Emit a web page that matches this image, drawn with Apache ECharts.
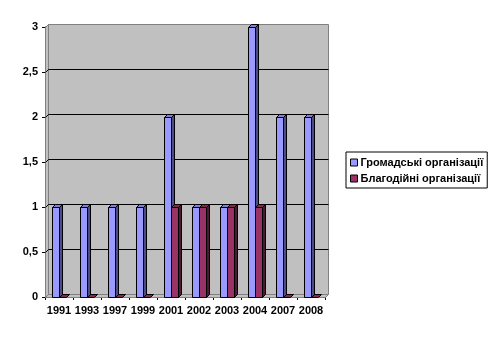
<!DOCTYPE html>
<html>
<head>
<meta charset="utf-8">
<script src="https://cdn.jsdelivr.net/npm/echarts@6/dist/echarts.min.js"></script>
<style>
  html, body { margin: 0; padding: 0; background: #fff; }
  #chart { width: 498px; height: 340px; }
</style>
</head>
<body>
<div id="chart"></div>
<script>
// Роки (категорії осі X)
const years = ['1991', '1993', '1997', '1999', '2001', '2002', '2003', '2004', '2007', '2008'];
// Кількість організацій за роками
const civicOrgs = [1, 1, 1, 1, 2, 1, 1, 3, 2, 2];
const charityOrgs = [0, 0, 0, 0, 1, 1, 1, 1, 0, 0];
// Поділки осі Y
const yTicks = [0, 0.5, 1, 1.5, 2, 2.5, 3];

const seriesNames = ['Громадські організації', 'Благодійні організації'];
const FONT = '"Liberation Sans", Arial, sans-serif';
const DEPTH = 3;

const palette = [
  { front: '#9999ff', top: '#8080d8', side: '#4c4c88' },
  { front: '#993366', top: '#80294f', side: '#4c1933' }
];

const chart = echarts.init(document.getElementById('chart'), null, { renderer: 'canvas' });

// Back wall, left wall and floor of the 3D box
function renderWalls(params, api) {
  const x0 = api.coord([0, 0])[0] - api.size([1, 0])[0] / 2;
  const x1 = api.coord([years.length - 1, 0])[0] + api.size([1, 0])[0] / 2;
  const yb = Math.round(api.coord([0, 0])[1]) + 0.5;
  const yt = Math.round(api.coord([0, 3])[1]) + 0.5;
  const L = Math.round(x0) + 0.5, R = Math.round(x1) + 0.5;
  const d = DEPTH;
  return {
    type: 'group',
    children: [
      { type: 'polygon', shape: { points: [[L + d, yt - d], [R + d, yt - d], [R + d, yb - d], [L + d, yb - d]] },
        style: { fill: '#c0c0c0', stroke: '#808080', lineWidth: 1 } },
      { type: 'polygon', shape: { points: [[L, yt], [L + d, yt - d], [L + d, yb - d], [L, yb]] },
        style: { fill: '#c0c0c0', stroke: '#808080', lineWidth: 1 } },
      { type: 'polygon', shape: { points: [[L, yb], [L + d, yb - d], [R + d, yb - d], [R, yb]] },
        style: { fill: '#c0c0c0', stroke: '#808080', lineWidth: 1 } }
    ]
  };
}

// Horizontal gridlines drawn on the back wall
function renderGridLine(params, api) {
  const v = api.value(0);
  const x0 = api.coord([0, 0])[0] - api.size([1, 0])[0] / 2;
  const x1 = api.coord([years.length - 1, 0])[0] + api.size([1, 0])[0] / 2;
  const y = Math.round(api.coord([0, v])[1]) + 0.5;
  const L = Math.round(x0) + 0.5, R = Math.round(x1) + 0.5;
  const d = DEPTH;
  return {
    type: 'polyline',
    shape: { points: [[L, y], [L + d, y - d], [R + d, y - d]] },
    style: { stroke: '#000', lineWidth: 1, fill: null }
  };
}

// 3D column: front face, right side and top
function makeBarRenderer(idx) {
  const c = palette[idx];
  return function (params, api) {
    const i = api.value(0);
    const v = api.value(1);
    const band = api.size([1, 0])[0];
    const cx = api.coord([i, 0])[0];
    const w = Math.round(band * 0.265);
    const left = Math.floor(cx - band * 0.22) + idx * w + 0.5;
    const y0 = Math.round(api.coord([i, 0])[1]) + 0.5;
    const y1 = Math.round(api.coord([i, v])[1]) + 0.5;
    const d = DEPTH;
    const stroke = { stroke: '#000', lineWidth: 1, lineJoin: 'miter' };
    const children = [];
    if (v > 0) {
      children.push({ type: 'polygon', shape: { points: [[left + w, y1], [left + w + d, y1 - d], [left + w + d, y0 - d], [left + w, y0]] },
        style: Object.assign({ fill: c.side }, stroke) });
      children.push({ type: 'rect', shape: { x: left, y: y1, width: w, height: y0 - y1 },
        style: Object.assign({ fill: c.front }, stroke) });
    }
    children.push({ type: 'polygon', shape: { points: [[left, y1], [left + w, y1], [left + w + d, y1 - d], [left + d, y1 - d]] },
      style: Object.assign({ fill: c.top }, stroke) });
    return { type: 'group', children: children };
  };
}

const option = {
  animation: false,
  backgroundColor: '#ffffff',
  grid: { left: 45, right: 173, top: 27, bottom: 43, containLabel: false },
  legend: {
    orient: 'vertical',
    left: 346,
    top: 152,
    backgroundColor: '#fff',
    borderColor: '#000',
    borderWidth: 1,
    borderRadius: 0,
    padding: [5, 4, 4, 4],
    itemWidth: 7,
    itemHeight: 7,
    itemGap: 5,
    itemStyle: { borderColor: '#000', borderWidth: 1 },
    textStyle: { fontFamily: FONT, fontSize: 11, fontWeight: 'bold', color: '#000', padding: [0, 0, 0, -2] },
    data: [
      { name: seriesNames[0], icon: 'rect', itemStyle: { color: palette[0].front } },
      { name: seriesNames[1], icon: 'rect', itemStyle: { color: palette[1].front } }
    ]
  },
  xAxis: {
    type: 'category',
    data: years,
    boundaryGap: true,
    axisLine: { show: true, lineStyle: { color: '#000', width: 1 } },
    axisTick: { show: true, length: 3, inside: false, lineStyle: { color: '#000' } },
    axisLabel: { margin: 8, fontFamily: FONT, fontSize: 11, fontWeight: 'bold', color: '#000', interval: 0 },
    splitLine: { show: false }
  },
  yAxis: {
    type: 'value',
    min: 0,
    max: 3,
    interval: 0.5,
    axisLine: { show: true, lineStyle: { color: '#000', width: 1 } },
    axisTick: { show: true, length: 3, lineStyle: { color: '#000' } },
    axisLabel: {
      margin: 7, fontFamily: FONT, fontSize: 11, fontWeight: 'bold', color: '#000',
      formatter: function (v) { return String(v).replace('.', ','); }
    },
    splitLine: { show: false }
  },
  series: [
    { type: 'custom', name: '_walls', silent: true, z: 1, renderItem: renderWalls, data: [[0, 0]], legendHoverLink: false },
    { type: 'custom', name: '_grid', silent: true, z: 2, renderItem: renderGridLine,
      data: yTicks.filter(function (t) { return t > 0 && t < 3; }).map(function (t) { return [t]; }),
      encode: { y: 0 } },
    { type: 'custom', name: seriesNames[0], z: 3, renderItem: makeBarRenderer(0),
      itemStyle: { color: palette[0].front },
      data: civicOrgs.map(function (v, i) { return [i, v]; }), encode: { x: 0, y: 1 } },
    { type: 'custom', name: seriesNames[1], z: 4, renderItem: makeBarRenderer(1),
      itemStyle: { color: palette[1].front },
      data: charityOrgs.map(function (v, i) { return [i, v]; }), encode: { x: 0, y: 1 } }
  ]
};

chart.setOption(option);
</script>
</body>
</html>
